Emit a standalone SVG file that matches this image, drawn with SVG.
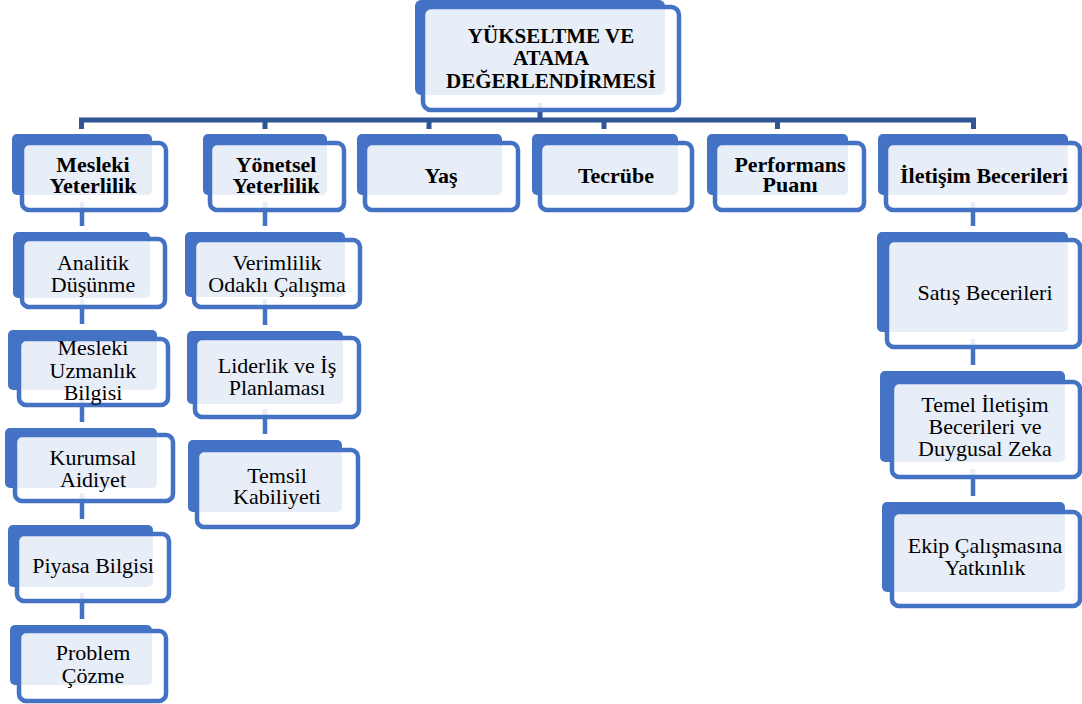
<svg xmlns="http://www.w3.org/2000/svg" width="1082" height="704" viewBox="0 0 1082 704">
<style>
.back{fill:#4472C4}
.front{fill:#FFFFFF;fill-opacity:0.88;stroke:#4472C4;stroke-width:4.5}
.t{font-family:"Liberation Serif","Times New Roman",serif;font-size:22px;fill:#000;text-anchor:middle}
.b{font-weight:bold}
.h{font-family:"Liberation Serif","Times New Roman",serif;font-size:21px;font-weight:bold;fill:#000;text-anchor:middle}
.bar{fill:none;stroke:#2F5597;stroke-width:5}
.col{fill:none;stroke:#4472C4;stroke-width:4.5}
</style>
<rect width="1082" height="704" fill="#FFFFFF"/>
<g id="connectors">
<path class="bar" d="M540,103 V120 M81.5,129 V120 H973.5 V129 M265,120 V129 M429,120 V129 M604,120 V129 M777.5,120 V129"/>
<path class="col" d="M82,202 V226 M82,299 V324 M82,397 V422 M82,493 V519 M82,593 V619"/>
<path class="col" d="M265,202 V226 M265,299 V325 M265,409 V434"/>
<path class="col" d="M973,202 V226 M973,339 V365 M973,469 V496"/>
</g>
<g id="n0">
<rect class="back" x="415" y="0" width="250" height="95" rx="6"/>
<rect class="front" x="423" y="7" width="256" height="103" rx="8"/>
<text class="h"><tspan x="551" y="43">YÜKSELTME VE</tspan><tspan x="551" y="65">ATAMA</tspan><tspan x="551" y="88">DEĞERLENDİRMESİ</tspan></text>
</g>
<g id="n1">
<rect class="back" x="12" y="134" width="140" height="61" rx="5"/>
<rect class="front" x="22" y="143" width="144" height="67" rx="7"/>
<text class="t b"><tspan x="93" y="172">Mesleki</tspan><tspan x="93" y="193">Yeterlilik</tspan></text>
</g>
<g id="n2">
<rect class="back" x="203" y="134" width="124" height="61" rx="5"/>
<rect class="front" x="210" y="143" width="134" height="67" rx="7"/>
<text class="t b"><tspan x="276" y="172">Yönetsel</tspan><tspan x="276" y="193">Yeterlilik</tspan></text>
</g>
<g id="n3">
<rect class="back" x="357" y="134" width="145" height="61" rx="5"/>
<rect class="front" x="365" y="143" width="153" height="67" rx="7"/>
<text class="t b" x="441" y="183">Yaş</text>
</g>
<g id="n4">
<rect class="back" x="532" y="134" width="146" height="61" rx="5"/>
<rect class="front" x="540" y="143" width="152" height="67" rx="7"/>
<text class="t b" x="616" y="183">Tecrübe</text>
</g>
<g id="n5">
<rect class="back" x="707" y="134" width="141" height="61" rx="5"/>
<rect class="front" x="715" y="143" width="149" height="67" rx="7"/>
<text class="t b"><tspan x="790" y="172">Performans</tspan><tspan x="790" y="192">Puanı</tspan></text>
</g>
<g id="n6">
<rect class="back" x="878" y="134" width="190" height="61" rx="5"/>
<rect class="front" x="886" y="143" width="194" height="67" rx="7"/>
<text class="t b" x="984" y="183">İletişim Becerileri</text>
</g>
<g id="n7">
<rect class="back" x="13" y="232" width="137" height="66" rx="5"/>
<rect class="front" x="22" y="239" width="143" height="68" rx="7"/>
<text class="t"><tspan x="93" y="270">Analitik</tspan><tspan x="93" y="292">Düşünme</tspan></text>
</g>
<g id="n8">
<rect class="back" x="8" y="330" width="149" height="60" rx="5"/>
<rect class="front" x="19" y="339" width="149" height="66" rx="7"/>
<text class="t"><tspan x="93" y="355">Mesleki</tspan><tspan x="93" y="378">Uzmanlık</tspan><tspan x="93" y="400">Bilgisi</tspan></text>
</g>
<g id="n9">
<rect class="back" x="5" y="428" width="152" height="60" rx="5"/>
<rect class="front" x="15" y="435" width="158" height="66" rx="7"/>
<text class="t"><tspan x="93" y="465">Kurumsal</tspan><tspan x="93" y="487">Aidiyet</tspan></text>
</g>
<g id="n10">
<rect class="back" x="8" y="525" width="145" height="62" rx="5"/>
<rect class="front" x="17" y="534" width="152" height="67" rx="7"/>
<text class="t" x="93" y="573">Piyasa Bilgisi</text>
</g>
<g id="n11">
<rect class="back" x="10" y="625" width="142" height="60" rx="5"/>
<rect class="front" x="19" y="631" width="147" height="70" rx="7"/>
<text class="t"><tspan x="93" y="660">Problem</tspan><tspan x="93" y="683">Çözme</tspan></text>
</g>
<g id="n12">
<rect class="back" x="185" y="232" width="160" height="65" rx="5"/>
<rect class="front" x="194" y="240" width="166" height="67" rx="7"/>
<text class="t"><tspan x="277" y="270">Verimlilik</tspan><tspan x="277" y="292">Odaklı Çalışma</tspan></text>
</g>
<g id="n13">
<rect class="back" x="187" y="331" width="156" height="73" rx="5"/>
<rect class="front" x="195" y="338" width="164" height="79" rx="7"/>
<text class="t"><tspan x="277" y="373">Liderlik ve İş</tspan><tspan x="277" y="395">Planlaması</tspan></text>
</g>
<g id="n14">
<rect class="back" x="188" y="440" width="154" height="72" rx="5"/>
<rect class="front" x="197" y="450" width="161" height="77" rx="7"/>
<text class="t"><tspan x="277" y="483">Temsil</tspan><tspan x="277" y="504">Kabiliyeti</tspan></text>
</g>
<g id="n15">
<rect class="back" x="877" y="232" width="191" height="100" rx="5"/>
<rect class="front" x="887" y="240" width="193" height="107" rx="7"/>
<text class="t" x="985" y="300">Satış Becerileri</text>
</g>
<g id="n16">
<rect class="back" x="880" y="371" width="185" height="91" rx="5"/>
<rect class="front" x="892" y="382" width="188" height="95" rx="7"/>
<text class="t"><tspan x="985" y="412">Temel İletişim</tspan><tspan x="985" y="434">Becerileri ve</tspan><tspan x="985" y="456">Duygusal Zeka</tspan></text>
</g>
<g id="n17">
<rect class="back" x="882" y="502" width="183" height="90" rx="5"/>
<rect class="front" x="892" y="512" width="188" height="94" rx="7"/>
<text class="t"><tspan x="985" y="553">Ekip Çalışmasına</tspan><tspan x="985" y="575">Yatkınlık</tspan></text>
</g>
</svg>
